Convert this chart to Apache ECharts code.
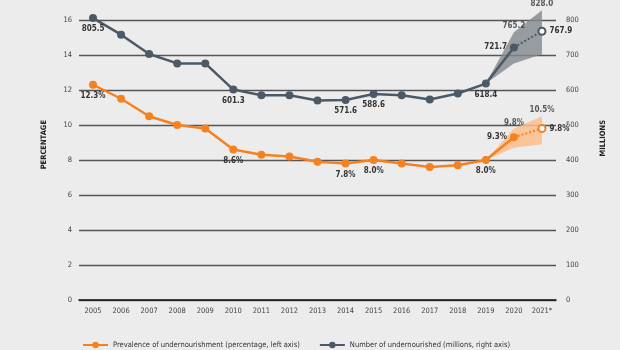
<!DOCTYPE html>
<html>
<head>
<meta charset="utf-8">
<script src="https://cdn.jsdelivr.net/npm/echarts@6/dist/echarts.min.js"></script>
<style>
  html, body { margin: 0; padding: 0; background: #ececec; }
  #chart { width: 620px; height: 350px; }
</style>
</head>
<body>
<div id="chart"></div>
<script>
// data
const years = ['2005', '2006', '2007', '2008', '2009', '2010', '2011', '2012', '2013',
  '2014', '2015', '2016', '2017', '2018', '2019', '2020', '2021*'];
const pou = [12.3, 11.5, 10.5, 10.0, 9.8, 8.6, 8.3, 8.2, 7.9, 7.8, 8.0, 7.8, 7.6, 7.7, 8.0, 9.3];
const pouProj = [9.3, 9.8];          // 2020 -> 2021 projection
const pouLow = [8.0, 8.7, 8.9];      // 2019..2021
const pouHigh = [8.0, 9.8, 10.5];
const pun = [805.5, 758, 703, 676, 676, 601.3, 585, 585, 570, 571.6, 588.6, 585, 573, 590, 618.4, 721.7];
const punProj = [721.7, 767.9];
const punLow = [618.4, 675.5, 701.9];
const punHigh = [618.4, 765.2, 828.0];
const pctTicks = [0, 16, 2];
const milTicks = [0, 800, 100];

const ORANGE = '#f58220';
const SLATE = '#4b5a66';
const FONT = "'DejaVu Sans Condensed', 'Liberation Sans Narrow', sans-serif";

// which points carry a value label and where
const pouLabelPos = { 0: 'bottom', 5: 'bottom', 9: 'bottom', 10: 'bottom', 14: 'bottom', 15: 'left' };
const punLabelPos = { 0: 'bottom', 5: 'bottom', 9: 'bottom', 10: 'bottom', 14: 'bottom', 15: 'left' };

const n = years.length;
const pad = (arr, start) => years.map((_, i) => (i >= start && i - start < arr.length) ? arr[i - start] : '-');

const labelStyle = { fontFamily: FONT, fontSize: 8, fontWeight: 'bold', color: '#333' };

function lbl(pos, text, dist) {
  return Object.assign({ show: true, position: pos, distance: dist, formatter: () => text }, labelStyle);
}

function withLabels(vals, posMap, fmt) {
  return vals.map((v, i) => posMap[i] === undefined ? v : { value: v, label: lbl(posMap[i], fmt(v), 3) });
}

const fmtPct = v => v.toFixed(1) + '%';
const fmtNum = v => v.toFixed(1);

function band(name, low, high, axis, color, fmt) {
  const start = n - low.length;
  const lowData = pad(low, start).map((v, i) => (v === '-' || i === start) ? v : { value: v, label: lbl('bottom', fmt(v), 2) });
  const diffData = pad(high.map((h, i) => +(h - low[i]).toFixed(2)), start);
  const topData = pad(high, start).map((v, i) => (v === '-' || i === start) ? v : { value: v, label: lbl('top', fmt(v), 2) });
  return [
    { name: name + 'Low', type: 'line', yAxisIndex: axis, stack: name, data: lowData, symbol: 'none',
      lineStyle: { width: 0 }, clip: false, silent: true, z: 1 },
    { name: name + 'Diff', type: 'line', yAxisIndex: axis, stack: name, data: diffData, symbol: 'none',
      lineStyle: { width: 0 }, areaStyle: { color: color, opacity: 1 }, clip: false, silent: true, z: 1 },
    { name: name + 'Top', type: 'scatter', yAxisIndex: axis, data: topData, symbolSize: 0, clip: false, silent: true, z: 1 }
  ];
}

const chart = echarts.init(document.getElementById('chart'));

const option = {
  backgroundColor: '#ececec',
  animation: false,
  grid: { left: 79, right: 64, top: 20, bottom: 50 },
  legend: {
    data: ['Prevalence of undernourishment (percentage, left axis)', 'Number of undernourished (millions, right axis)'],
    left: 77, top: 336, itemWidth: 25, itemHeight: 8, itemGap: 19,
    textStyle: { fontFamily: FONT, fontSize: 7.5, color: '#333' }
  },
  graphic: [
    { type: 'text', left: 40, top: 120, rotation: Math.PI / 2,
      style: { text: 'PERCENTAGE', font: 'bold 7.5px ' + FONT, fill: '#222' } },
    { type: 'text', left: 599, top: 120, rotation: Math.PI / 2,
      style: { text: 'MILLIONS', font: 'bold 7.5px ' + FONT, fill: '#222' } }
  ],
  xAxis: {
    type: 'category',
    data: years,
    boundaryGap: true,
    axisLine: { lineStyle: { color: '#111', width: 1.5 } },
    axisTick: { alignWithLabel: true, length: 4, lineStyle: { color: '#111' } },
    axisLabel: { interval: 0, fontFamily: FONT, fontSize: 7.5, color: '#444', margin: 7 }
  },
  yAxis: [
    {
      type: 'value', min: pctTicks[0], max: pctTicks[1], interval: pctTicks[2],
      axisLabel: { fontFamily: FONT, fontSize: 7.5, color: '#444', margin: 7 },
      splitLine: { lineStyle: { color: '#555', width: 1.3 } },
      axisLine: { show: false }, axisTick: { show: false }
    },
    {
      type: 'value', min: milTicks[0], max: milTicks[1], interval: milTicks[2],
      axisLabel: { fontFamily: FONT, fontSize: 7.5, color: '#444', margin: 10 },
      splitLine: { show: false },
      axisLine: { show: false }, axisTick: { show: false }
    }
  ],
  series: [
    ...band('pun', punLow, punHigh, 1, 'rgba(130,136,142,0.8)', fmtNum),
    ...band('pou', pouLow, pouHigh, 0, 'rgba(253,190,140,0.85)', fmtPct),
    {
      name: 'Number of undernourished (millions, right axis)',
      type: 'line', yAxisIndex: 1, clip: false,
      data: withLabels(pad(pun, 0), punLabelPos, fmtNum),
      color: SLATE, symbol: 'circle', symbolSize: 8,
      lineStyle: { width: 2.5 }, z: 5
    },
    {
      name: 'punProj', type: 'line', yAxisIndex: 1, clip: false,
      data: pad(punProj, n - 2).map((v, i) => i === n - 1 ?
        { value: v, symbol: 'emptyCircle', label: lbl('right', fmtNum(v), 3) } : v),
      color: SLATE, symbol: 'none', symbolSize: 7,
      itemStyle: { borderWidth: 1.5 },
      lineStyle: { width: 2, type: 'dotted' }, z: 4
    },
    {
      name: 'Prevalence of undernourishment (percentage, left axis)',
      type: 'line', yAxisIndex: 0, clip: false,
      data: withLabels(pad(pou, 0), pouLabelPos, fmtPct),
      color: ORANGE, symbol: 'circle', symbolSize: 8,
      lineStyle: { width: 2.5 }, z: 5
    },
    {
      name: 'pouProj', type: 'line', yAxisIndex: 0, clip: false,
      data: pad(pouProj, n - 2).map((v, i) => i === n - 1 ?
        { value: v, symbol: 'emptyCircle', label: lbl('right', fmtPct(v), 3) } : v),
      color: ORANGE, symbol: 'none', symbolSize: 7,
      itemStyle: { borderWidth: 1.5 },
      lineStyle: { width: 2, type: 'dotted' }, z: 4
    }
  ]
};

chart.setOption(option);
</script>
</body>
</html>
